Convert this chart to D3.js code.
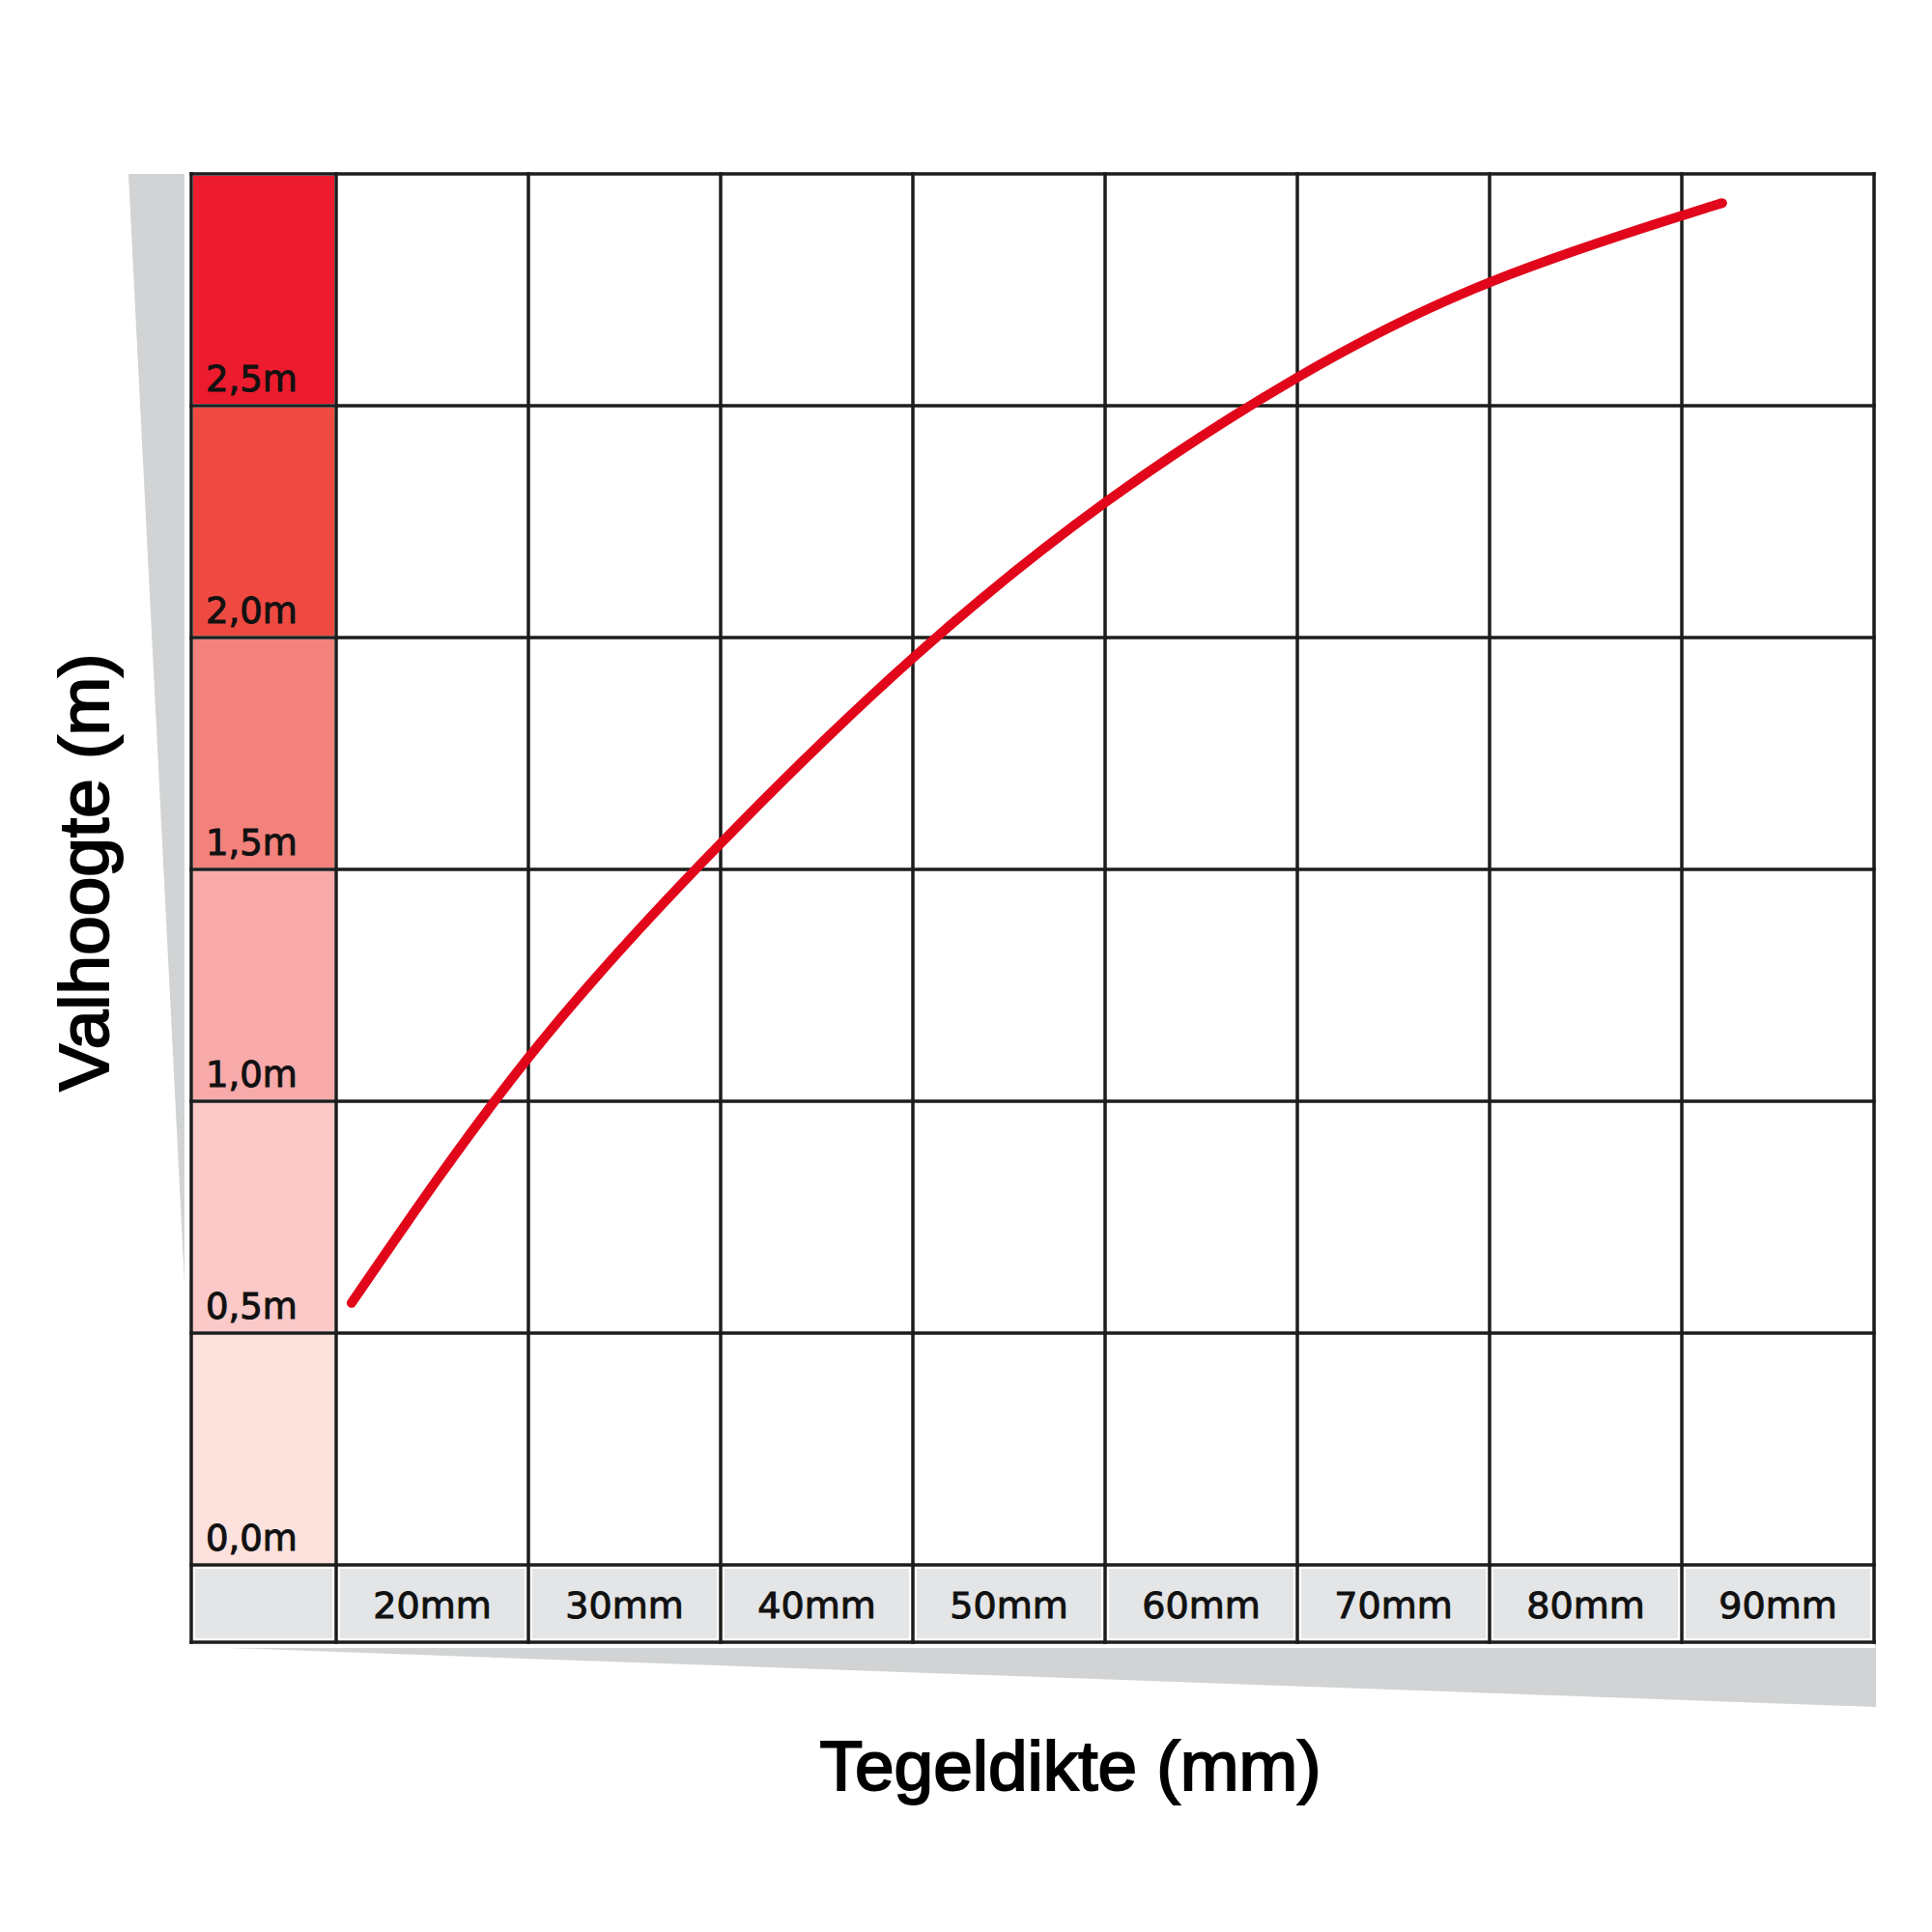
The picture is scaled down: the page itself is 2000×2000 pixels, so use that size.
<!DOCTYPE html>
<html>
<head>
<meta charset="utf-8">
<script src="https://cdn.jsdelivr.net/npm/d3@7"></script>
<style>
  html, body { margin: 0; padding: 0; background: #ffffff; }
  svg { display: block; }
</style>
</head>
<body>
<script>
// ---- data ----
const thicknessLabels = ["20mm", "30mm", "40mm", "50mm", "60mm", "70mm", "80mm", "90mm"];
const thicknessValues = [20, 30, 40, 50, 60, 70, 80, 90];
const heightLevels = [0.0, 0.5, 1.0, 1.5, 2.0, 2.5];
const heightLabels = ["0,0m", "0,5m", "1,0m", "1,5m", "2,0m", "2,5m"];
// curve: tile thickness (mm) vs fall height (m)
const curveThickness = [15.8, 25, 35, 45, 55, 65, 75, 85, 87.1];
const curveHeight    = [0.565, 1.094, 1.556, 1.956, 2.291, 2.561, 2.766, 2.91, 2.937];

// ---- styles ----
const levelColors = ["#fde1dd", "#fbc9c8", "#f7aaa9", "#f3817c", "#ef4a42", "#ed1b2e"];
const gridColor = "#1d1d1b";
const labelFill = "#e4e5e7";
const shadowFill = "#d1d3d4";
const curveColor = "#e1061a";

const W = 2000, H = 2000;
const svg = d3.select("body").append("svg").attr("width", W).attr("height", H);

const legendLeft = 198;
const x = d3.scaleLinear().domain([15, 95]).range([348, 1940]);
const y = d3.scaleLinear().domain([0, 3]).range([1620, 180]);
const labelBottom = 1700;

// shadow
svg.append("polygon")
  .attr("points", [[133, 180], [1942, 180], [1942, 1767], [210, 1705]].map(p => p.join(",")).join(" "))
  .attr("fill", shadowFill);

// white chart panel
svg.append("rect")
  .attr("x", 191).attr("y", 173)
  .attr("width", 1941 - 191).attr("height", 1706 - 173)
  .attr("fill", "#ffffff");

// legend cells (coloured)
const inset = 2;
svg.append("g").selectAll("rect")
  .data(heightLevels)
  .join("rect")
  .attr("x", legendLeft + inset)
  .attr("y", d => y(d + 0.5) + inset)
  .attr("width", x(15) - legendLeft - 2 * inset)
  .attr("height", d => y(d) - y(d + 0.5) - 2 * inset)
  .attr("fill", (d, i) => levelColors[i]);

// bottom label row fills
const labelCells = [{ l: legendLeft, r: x(15) }].concat(thicknessValues.map(v => ({ l: x(v - 5), r: x(v + 5) })));
svg.append("g").selectAll("rect")
  .data(labelCells)
  .join("rect")
  .attr("x", d => d.l + 4)
  .attr("y", y(0) + 4)
  .attr("width", d => d.r - d.l - 8)
  .attr("height", labelBottom - y(0) - 8)
  .attr("fill", labelFill);

// grid lines
const grid = svg.append("g").attr("stroke", gridColor).attr("stroke-width", 3.5).attr("fill", "none");
const vLines = [legendLeft, x(15)].concat(thicknessValues.map(v => x(v + 5)));
grid.selectAll("line.v")
  .data(vLines)
  .join("line")
  .attr("class", "v")
  .attr("x1", d => d).attr("x2", d => d)
  .attr("y1", y(3) - 1.75).attr("y2", labelBottom + 1.75);
const hLevels = [0, 0.5, 1, 1.5, 2, 2.5, 3];
grid.selectAll("line.h")
  .data(hLevels)
  .join("line")
  .attr("class", "h")
  .attr("x1", legendLeft - 1.75).attr("x2", x(95) + 1.75)
  .attr("y1", d => y(d)).attr("y2", d => y(d));
grid.append("line")
  .attr("x1", legendLeft - 1.75).attr("x2", x(95) + 1.75)
  .attr("y1", labelBottom).attr("y2", labelBottom);

// legend labels
svg.append("g").selectAll("text")
  .data(heightLevels)
  .join("text")
  .attr("x", legendLeft + 15)
  .attr("y", d => y(d) - 15)
  .attr("font-family", "DejaVu Sans, Verdana, sans-serif")
  .attr("font-size", 37)
  .attr("fill", "#111").attr("stroke", "#111").attr("stroke-width", 1)
  .text((d, i) => heightLabels[i]);

// thickness labels
svg.append("g").selectAll("text")
  .data(thicknessValues)
  .join("text")
  .attr("x", d => x(d))
  .attr("y", 1675)
  .attr("text-anchor", "middle")
  .attr("font-family", "DejaVu Sans, Verdana, sans-serif")
  .attr("font-size", 38)
  .attr("fill", "#111").attr("stroke", "#111").attr("stroke-width", 1)
  .text((d, i) => thicknessLabels[i]);

// curve
const pts = curveThickness.map((t, i) => [t, curveHeight[i]]);
svg.append("path")
  .datum(pts)
  .attr("fill", "none")
  .attr("stroke", curveColor)
  .attr("stroke-width", 10)
  .attr("stroke-linecap", "round")
  .attr("d", d3.line().x(d => x(d[0])).y(d => y(d[1])).curve(d3.curveNatural));

// axis titles
svg.append("text")
  .attr("x", 1108).attr("y", 1853)
  .attr("text-anchor", "middle")
  .attr("font-family", "Liberation Sans, Arial, sans-serif")
  .attr("font-size", 72)
  .attr("fill", "#000").attr("stroke", "#000").attr("stroke-width", 2)
  .attr("textLength", 519).attr("lengthAdjust", "spacingAndGlyphs")
  .text("Tegeldikte (mm)");

svg.append("text")
  .attr("transform", "translate(112,903) rotate(-90)")
  .attr("text-anchor", "middle")
  .attr("font-family", "Liberation Sans, Arial, sans-serif")
  .attr("font-size", 72)
  .attr("fill", "#000").attr("stroke", "#000").attr("stroke-width", 2)
  .attr("textLength", 453).attr("lengthAdjust", "spacingAndGlyphs")
  .text("Valhoogte (m)");
</script>
</body>
</html>
